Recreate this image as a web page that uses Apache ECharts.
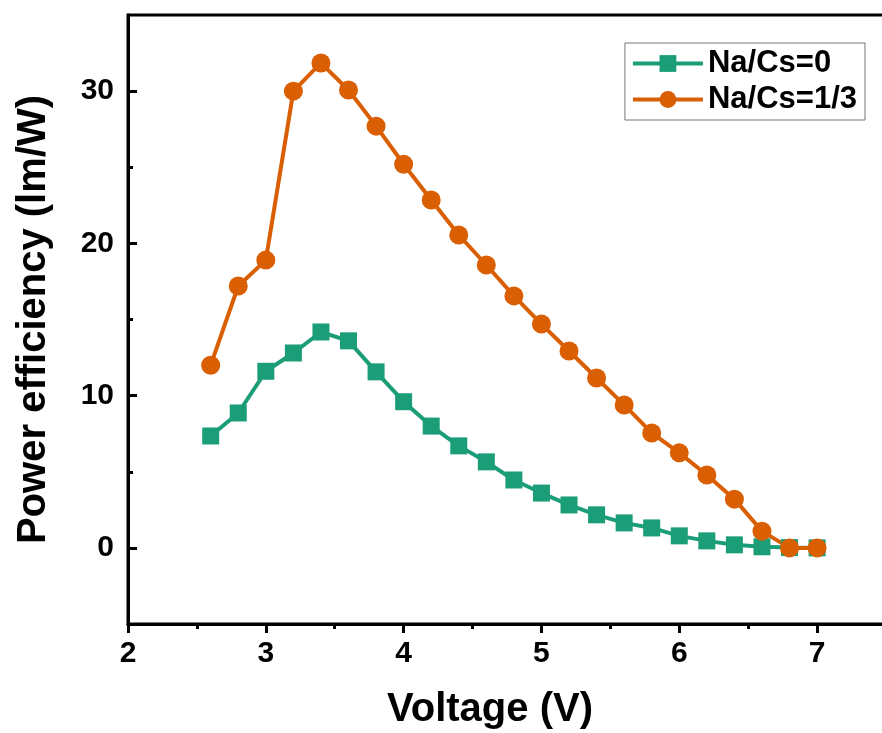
<!DOCTYPE html>
<html>
<head>
<meta charset="utf-8">
<script src="https://cdn.jsdelivr.net/npm/echarts@6/dist/echarts.min.js"></script>
<style>
html,body{margin:0;padding:0;background:#fff;}
#main{width:882px;height:733px;}
</style>
</head>
<body>
<div id="main"></div>
<script>
var voltage = [2.6,2.8,3.0,3.2,3.4,3.6,3.8,4.0,4.2,4.4,4.6,4.8,5.0,5.2,5.4,5.6,5.8,6.0,6.2,6.4,6.6,6.8,7.0];
var pe0 = [7.35,8.86,11.6,12.8,14.18,13.6,11.56,9.6,8.0,6.7,5.65,4.46,3.6,2.82,2.17,1.64,1.31,0.79,0.46,0.2,0.07,0.02,0];
var pe13 = [12.0,17.2,18.9,30.0,31.85,30.07,27.7,25.2,22.85,20.55,18.58,16.55,14.7,12.93,11.16,9.39,7.55,6.24,4.79,3.2,1.1,0,0];
var names = ['Na/Cs=0','Na/Cs=1/3'];
var yMajor = [0,10,20,30];
var yMinor = [5,15,25];

function pairs(xs, ys){
    return xs.map(function(x,i){return [x, ys[i]];});
}

var chart = echarts.init(document.getElementById('main'));
var font = 'Liberation Sans, Arial, sans-serif';
chart.setOption({
    animation:false,
    color:['#1b9e77','#d95f02'],
    textStyle:{fontFamily:font},
    grid:{
        left:128,
        top:15,
        right:-4,
        bottom:109,
        outerBoundsMode:'none',
        containLabel:false,
        show:true,
        borderColor:'#000',
        borderWidth:3
    },
    legend:{
        right:17,
        top:43,
        orient:'vertical',
        data:names,
        itemWidth:70,
        itemHeight:21,
        itemGap:5,
        padding:[5,8,5,6],
        borderColor:'#777',
        borderWidth:1,
        lineStyle:{width:4},
        textStyle:{fontSize:31,fontWeight:'bold',color:'#000',fontFamily:font}
    },
    xAxis:{
        type:'value',
        min:2,
        max:7.5,
        interval:1,
        name:'Voltage (V)',
        nameLocation:'middle',
        nameGap:66,
        nameTextStyle:{fontSize:40,fontWeight:'bold',color:'#000',fontFamily:font,padding:[0,34,0,0]},
        axisLine:{onZero:false,lineStyle:{color:'#000',width:3}},
        axisTick:{inside:false,length:9,lineStyle:{color:'#000',width:3}},
        minorTick:{show:true,splitNumber:2,length:5,lineStyle:{color:'#000',width:3}},
        splitLine:{show:false},
        axisLabel:{fontSize:30,fontWeight:'bold',color:'#000',margin:15,fontFamily:font,
            formatter:function(v){return v<=7?v:'';}}
    },
    yAxis:[{
        type:'value',
        min:-5,
        max:35,
        interval:5,
        name:'Power efficiency (lm/W)',
        nameLocation:'middle',
        nameGap:74,
        nameTextStyle:{fontSize:40,fontWeight:'bold',color:'#000',fontFamily:font},
        axisLine:{onZero:false,lineStyle:{color:'#000',width:3}},
        axisTick:{inside:true,length:9,customValues:yMajor,lineStyle:{color:'#000',width:3}},
        splitLine:{show:false},
        axisLabel:{fontSize:30,fontWeight:'bold',color:'#000',margin:14,fontFamily:font,
            customValues:yMajor,
            formatter:function(v){return yMajor.indexOf(v)>=0?v:'';}}
    },{
        type:'value',
        position:'left',
        min:-5,
        max:35,
        interval:5,
        axisLine:{show:false},
        axisTick:{inside:true,length:5,customValues:yMinor,lineStyle:{color:'#000',width:3}},
        axisLabel:{show:false},
        splitLine:{show:false}
    }],
    series:[{
        name:names[0],
        type:'line',
        symbol:'rect',
        symbolSize:17,
        lineStyle:{width:4},
        data:pairs(voltage,pe0)
    },{
        name:names[1],
        type:'line',
        symbol:'circle',
        symbolSize:19,
        lineStyle:{width:4},
        data:pairs(voltage,pe13)
    }]
});
</script>
</body>
</html>
